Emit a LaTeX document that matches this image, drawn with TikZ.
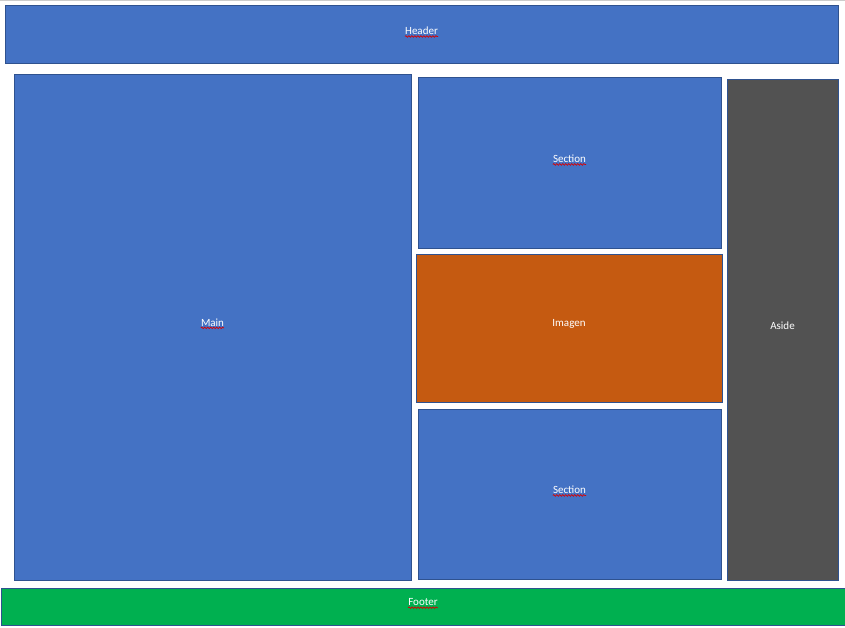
\documentclass[tikz,border=0pt]{standalone}
\usepackage{fontspec}
\setmainfont{Carlito}
\usetikzlibrary{decorations.pathmorphing}
\definecolor{boxblue}{HTML}{4472C4}
\definecolor{edgeblue}{HTML}{2F528F}
\definecolor{imgorange}{HTML}{C55A11}
\definecolor{asidegray}{HTML}{525252}
\definecolor{footgreen}{HTML}{00B050}
\tikzset{
  box/.style={draw=edgeblue, line width=1pt, inner sep=0pt, outer sep=0pt},
  lbl/.style={text=white, font=\fontsize{11}{12}\selectfont, inner sep=0pt},
  squig/.style={draw=red!85!black, line width=0.7pt, decorate,
    decoration={snake, amplitude=0.8pt, segment length=3pt}}
}
\begin{document}
\begin{tikzpicture}[x=1pt,y=-1pt]
\useasboundingbox (0,0) rectangle (845,628);
\fill[white] (0,0) rectangle (845,628);
\draw[black!20, line width=1pt] (0,0.5) -- (845,0.5);
% boxes
\node[box, fill=boxblue, minimum width=833pt, minimum height=58pt] (header) at (421.5,35) {};
\node[box, fill=boxblue, minimum width=397pt, minimum height=505pt] (main) at (212.5,327.5) {};
\node[box, fill=boxblue, minimum width=303pt, minimum height=170pt] (sec1) at (569.5,163) {};
\node[box, fill=imgorange, minimum width=306pt, minimum height=148pt] (img) at (569,328) {};
\node[box, fill=boxblue, minimum width=303pt, minimum height=170pt] (sec2) at (569.5,494) {};
\node[box, fill=asidegray, minimum width=111pt, minimum height=500pt] (aside) at (782.5,330) {};
\node[box, fill=footgreen, minimum width=844pt, minimum height=37pt] (footer) at (423,606.5) {};
% labels
\node[lbl] (theader) at ([yshift=4pt]header.center) {Header};
\node[lbl] (tmain) at ([yshift=5pt]main.center) {Main};
\node[lbl] (tsec1) at ([yshift=4pt]sec1.center) {Section};
\node[lbl] (timg) at ([yshift=4pt]img.center) {Imagen};
\node[lbl] (tsec2) at ([yshift=4pt]sec2.center) {Section};
\node[lbl] (taside) at ([yshift=4pt]aside.center) {Aside};
\node[lbl] (tfooter) at ([yshift=4pt]footer.center) {Footer};
% spell-check squiggles
\foreach \t in {theader,tmain,tsec1,tsec2,tfooter}{
  \draw[squig] ([yshift=-1.4pt]\t.south west) -- ([yshift=-1.4pt]\t.south east);
}
\end{tikzpicture}
\end{document}
